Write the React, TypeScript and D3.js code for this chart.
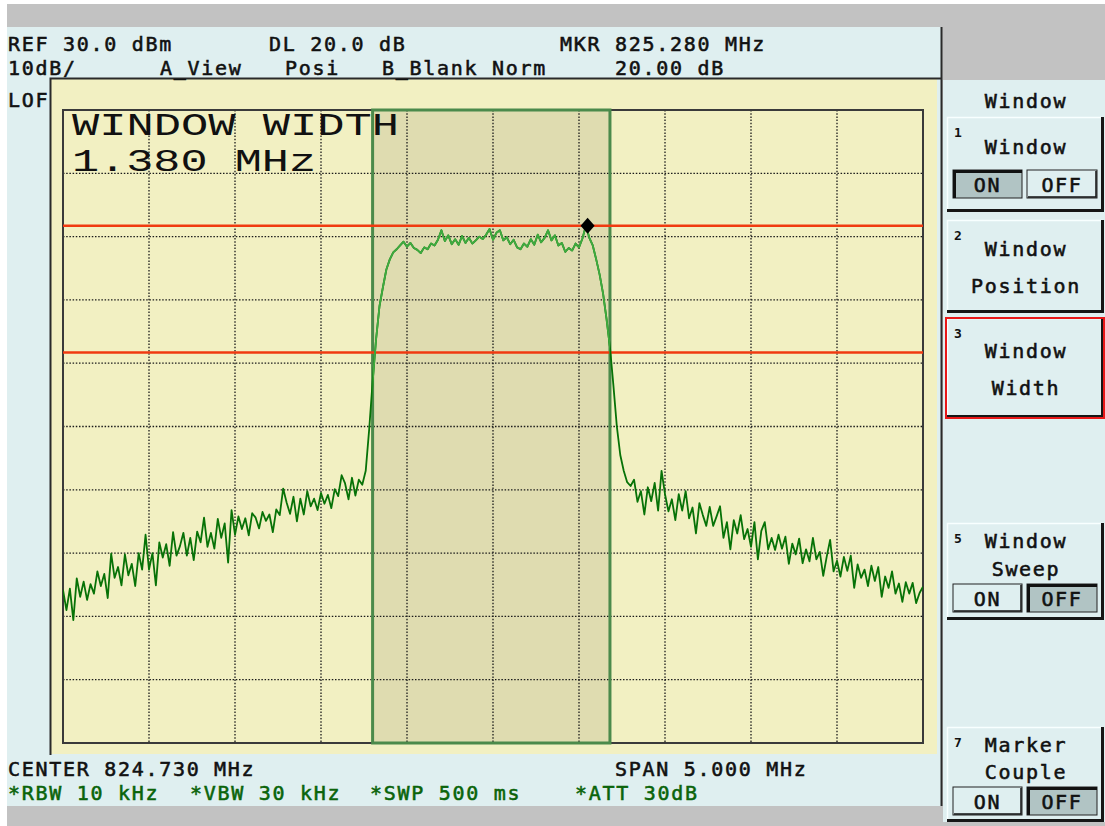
import React from "react";
import * as d3 from "d3";

// ---------- data ----------
const START_MHZ = 822.23;
const STEP_MHZ = 0.02;
const SPAN_MHZ = 5;
const REF_DBM = 30;
const DB_PER_DIV = 10;
const DIVS = 10;

const TRACE_DBM = [
  -45.8, -49.0, -45.6, -50.6, -44.0, -46.9, -44.5, -47.4, -44.9, -46.4,
  -42.9, -45.2, -43.3, -47.1, -40.1, -43.9, -42.2, -45.1, -40.2, -43.5,
  -41.7, -45.2, -40.0, -42.6, -37.1, -42.6, -40.0, -45.1, -38.3, -40.7,
  -38.6, -42.0, -36.7, -40.4, -38.9, -36.8, -40.4, -37.6, -41.1, -36.6,
  -38.3, -34.4, -39.0, -36.8, -39.3, -34.6, -37.6, -35.3, -41.5, -33.2,
  -37.1, -34.2, -36.2, -34.5, -37.2, -33.7, -34.4, -36.1, -33.5, -34.9,
  -33.9, -36.7, -33.1, -34.0, -29.8, -32.0, -33.8, -31.1, -35.0, -31.4,
  -33.9, -30.2, -32.6, -31.4, -33.2, -30.5, -32.2, -30.8, -32.9, -29.9,
  -31.0, -27.7, -29.0, -31.5, -28.1, -30.9, -28.4, -29.2, -27.0, -20.5,
  -13.0, -6.3, -1.0, 2.0, 4.8, 6.4, 7.5, 8.0, 8.6, 9.2,
  8.4, 9.0, 8.2, 7.9, 7.4, 8.3, 8.0, 8.9, 8.6, 9.5,
  11.0, 9.3, 10.2, 8.8, 9.6, 8.7, 10.1, 9.0, 9.8, 8.9,
  9.4, 10.0, 9.6, 10.3, 11.2, 9.5, 10.6, 11.0, 9.4, 9.9,
  8.8, 9.5, 8.3, 8.0, 8.9, 8.4, 9.6, 8.7, 10.3, 9.1,
  9.8, 11.0, 9.4, 10.2, 8.6, 9.0, 7.6, 8.2, 7.8, 8.9,
  8.3, 9.7, 11.7, 9.8, 8.6, 6.4, 4.0, 1.0, -3.0, -7.5,
  -13.5, -20.0, -24.5, -27.0, -28.8, -29.4, -28.4, -31.9, -30.2, -33.9,
  -29.6, -31.8, -28.9, -33.3, -27.0, -30.7, -33.4, -31.5, -34.8, -30.7,
  -33.3, -30.2, -34.5, -32.8, -36.9, -32.1, -34.0, -35.7, -32.7, -35.7,
  -34.2, -32.6, -37.6, -35.1, -39.4, -34.8, -36.9, -34.0, -37.8, -36.2,
  -39.0, -35.1, -41.0, -36.5, -35.1, -39.4, -37.6, -39.5, -37.1, -39.3,
  -37.4, -41.7, -38.5, -40.2, -37.7, -41.6, -39.4, -41.3, -37.6, -41.0,
  -39.8, -43.6, -40.6, -37.9, -42.9, -41.2, -43.7, -40.6, -42.8, -40.4,
  -45.5, -41.8, -43.9, -42.6, -45.2, -42.0, -44.4, -42.2, -46.9, -43.7,
  -45.5, -42.9, -46.4, -44.8, -47.7, -44.6, -46.4, -44.7, -47.9, -46.3,
  -45.3,
];

const WINDOW_START_MHZ = 824.03;
const WINDOW_WIDTH_MHZ = 1.38;
const LINE_LEVELS_DBM = [11.7, -8.3];
const MARKER_MHZ = 825.28;
const MARKER_DBM = 11.7;

const HEADER_ROW1 = ["REF 30.0 dBm", "DL 20.0 dB", "MKR 825.280 MHz"];
const HEADER_ROW2 = ["10dB/", "A_View", "Posi", "B_Blank", "Norm", "20.00 dB"];
const FOOTER_ROW1 = ["CENTER 824.730 MHz", "SPAN 5.000 MHz"];
const FOOTER_ROW2 = ["*RBW 10 kHz", "*VBW 30 kHz", "*SWP 500 ms", "*ATT 30dB"];
const BIG_TEXT = ["WINDOW WIDTH", "1.380 MHz"];
const MENU_TITLE = "Window";
const SOFTKEY_NUMS = ["1", "2", "3", "5", "7"];
const SOFTKEY_LINES = [["Window"], ["Window", "Position"], ["Window", "Width"], ["Window", "Sweep"], ["Marker", "Couple"]];
const SOFTKEY_TOGGLE = ["on", "", "", "off", "off"];

// ---------- layout ----------
const GX0 = 63, GX1 = 923, GY0 = 110, GY1 = 743;
const HEADER_ROW1_X = [8, 269, 560];
const HEADER_ROW2_X = [8, 160, 285, 382, 492, 615];
const FOOTER_ROW1_X = [8, 615];
const FOOTER_ROW2_X = [8, 190, 370, 575];
const SK_TOP = [117, 220, 318, 523, 727];
const SK_H = [95, 93, 100, 97, 95];
const SK_LINE_Y = [[154], [256, 293], [358, 395], [548, 576], [752, 779]];
const SK_TOGGLE_Y = [170, 0, 0, 584, 787];

const FONT = "'DejaVu Sans Mono', monospace";
const txt = { fontFamily: FONT, fontSize: 20, letterSpacing: 1.7, strokeWidth: 0.55 } as const;

const CYAN = "#dfeff0";
const YELLOW = "#f2f0c2";

function Toggle({ y, state }: { y: number; state: string }) {
  const boxes = [
    { x: 953, w: 69, label: "ON", pressed: state === "on" },
    { x: 1027, w: 70, label: "OFF", pressed: state === "off" },
  ];
  const h = 28;
  return (
    <g>
      {boxes.map((b) => (
        <g key={b.label}>
          <rect x={b.x} y={y} width={b.w} height={h} fill={b.pressed ? "#b1c4c4" : CYAN} stroke="#222" strokeWidth={1} />
          {b.pressed ? (
            <path d={`M${b.x + 1.5},${y + h}V${y + 1.5}H${b.x + b.w}`} fill="none" stroke="#111" strokeWidth={3} />
          ) : (
            <path d={`M${b.x + 1},${y + h - 1}H${b.x + b.w - 1}V${y + 1}`} fill="none" stroke="#111" strokeWidth={1.5} />
          )}
          <text x={b.x + b.w / 2} y={y + 22} textAnchor="middle" {...txt} fill="#111" stroke="#111">{b.label}</text>
        </g>
      ))}
    </g>
  );
}

export default function App() {
  const x = d3.scaleLinear().domain([START_MHZ, START_MHZ + SPAN_MHZ]).range([GX0, GX1]);
  const y = d3
    .scaleLinear()
    .domain([REF_DBM - DB_PER_DIV * DIVS, REF_DBM])
    .range([GY1, GY0]);

  const pts = TRACE_DBM.map((v, i) => [START_MHZ + i * STEP_MHZ, v] as [number, number]);
  const line = d3
    .line<[number, number]>()
    .x((d) => x(d[0]))
    .y((d) => y(d[1]));
  const tracePath = line(pts) || "";

  const xTicks = d3.range(0, DIVS + 1).map((k) => START_MHZ + (k * SPAN_MHZ) / DIVS);
  const yTicks = d3.range(0, DIVS + 1).map((k) => REF_DBM - k * DB_PER_DIV);

  const wx0 = x(WINDOW_START_MHZ);
  const wx1 = x(WINDOW_START_MHZ + WINDOW_WIDTH_MHZ);
  const mx = x(MARKER_MHZ);
  const my = y(MARKER_DBM);

  return (
    <div style={{ position: "absolute", left: 0, top: 0 }}>
      <svg width={1105} height={826} style={{ display: "block" }}>
        <defs>
          <clipPath id="gridClip">
            <rect x={GX0} y={GY0} width={GX1 - GX0} height={GY1 - GY0} />
          </clipPath>
          <clipPath id="winClip">
            <rect x={wx0} y={GY0} width={wx1 - wx0} height={GY1 - GY0} />
          </clipPath>
        </defs>
        <rect x={0} y={0} width={1105} height={826} fill="#ffffff" />
        <rect x={7} y={4} width={1098} height={822} fill="#c2c2c2" />
        {/* main screen */}
        <rect x={7} y={27} width={934} height={779} fill={CYAN} />
        <rect x={51} y={79} width={886} height={675} fill={YELLOW} />
        <path d="M50.5,755V78.5H941" fill="none" stroke="#2a2a2a" strokeWidth={2} />
        <line x1={941.5} x2={941.5} y1={27} y2={806} stroke="#2a2a2a" strokeWidth={2} />
        {/* right panel */}
        <rect x={943} y={80} width={162} height={742} fill={CYAN} />

        {/* window shading */}
        <rect x={wx0} y={GY0} width={wx1 - wx0} height={GY1 - GY0} fill="#dfdcb0" />

        {/* grid */}
        {xTicks.slice(1, -1).map((f) => (
          <line key={"vx" + f} x1={x(f)} x2={x(f)} y1={GY0} y2={GY1} stroke="#1a1a1a" strokeWidth={1.3} strokeDasharray="1.5 1.7" />
        ))}
        {yTicks.slice(1, -1).map((v) => (
          <line key={"hy" + v} x1={GX0} x2={GX1} y1={y(v)} y2={y(v)} stroke="#1a1a1a" strokeWidth={1.3} strokeDasharray="1.5 1.7" />
        ))}
        <rect x={GX0} y={GY0} width={GX1 - GX0} height={GY1 - GY0} fill="none" stroke="#3a3a3a" strokeWidth={2} />

        {/* window borders */}
        <rect x={wx0} y={GY0} width={wx1 - wx0} height={GY1 - GY0} fill="none" stroke="#4b8a4b" strokeWidth={3} />

        {/* display lines */}
        {LINE_LEVELS_DBM.map((v) => (
          <line key={"dl" + v} x1={GX0} x2={GX1} y1={y(v)} y2={y(v)} stroke="#f03a10" strokeWidth={2.5} />
        ))}

        {/* trace */}
        <g clipPath="url(#gridClip)">
          <path d={tracePath} fill="none" stroke="#077207" strokeWidth={1.8} strokeLinejoin="round" />
        </g>
        <g clipPath="url(#winClip)">
          <path d={tracePath} fill="none" stroke="#3faa3f" strokeWidth={1.8} strokeLinejoin="round" />
        </g>

        {/* marker */}
        <path d={`M${mx},${my - 8}L${mx + 7},${my}L${mx},${my + 8}L${mx - 7},${my}Z`} fill="#000" />

        {/* big overlay text */}
        <text x={72} y={135} fontFamily="'Liberation Mono', monospace" fontSize={31} textLength={327} lengthAdjust="spacingAndGlyphs" fill="#111">
          {BIG_TEXT[0]}
        </text>
        <text x={72} y={171} fontFamily="'Liberation Mono', monospace" fontSize={31} textLength={244} lengthAdjust="spacingAndGlyphs" fill="#111">
          {BIG_TEXT[1]}
        </text>

        {/* header */}
        {HEADER_ROW1.map((s, i) => (
          <text key={s} x={HEADER_ROW1_X[i]} y={51} {...txt} fill="#111" stroke="#111">{s}</text>
        ))}
        {HEADER_ROW2.map((s, i) => (
          <text key={s} x={HEADER_ROW2_X[i]} y={75} {...txt} fill="#111" stroke="#111">{s}</text>
        ))}
        <text x={8} y={107} {...txt} fill="#111" stroke="#111">LOF</text>

        {/* footer */}
        {FOOTER_ROW1.map((s, i) => (
          <text key={s} x={FOOTER_ROW1_X[i]} y={776} {...txt} fill="#111" stroke="#111">{s}</text>
        ))}
        {FOOTER_ROW2.map((s, i) => (
          <text key={s} x={FOOTER_ROW2_X[i]} y={800} {...txt} fill="#0a640a" stroke="#0a640a">{s}</text>
        ))}

        {/* softkeys */}
        <text x={1026} y={108} textAnchor="middle" {...txt} fill="#111" stroke="#111">{MENU_TITLE}</text>
        {SOFTKEY_NUMS.map((n, i) => {
          const top = SK_TOP[i];
          const h = SK_H[i];
          const red = i === 2;
          return (
            <g key={n}>
              <path d={`M947.5,${top + h}V${top + 0.5}H1103`} fill="none" stroke="#f8ffff" strokeWidth={1.5} />
              <path d={`M947,${top + h - 1.5}H1102.5V${top}`} fill="none" stroke="#161616" strokeWidth={3} />
              {red && <rect x={946} y={top} width={158} height={h} fill="none" stroke="#e81818" strokeWidth={2} />}
              <text x={954} y={top + 20} fontFamily={FONT} fontSize={13} fontWeight="bold" fill="#111">{n}</text>
              {SOFTKEY_LINES[i].map((s, j) => (
                <text key={s} x={1026} y={SK_LINE_Y[i][j]} textAnchor="middle" {...txt} fill="#111" stroke="#111">{s}</text>
              ))}
              {SOFTKEY_TOGGLE[i] && <Toggle y={SK_TOGGLE_Y[i]} state={SOFTKEY_TOGGLE[i]} />}
            </g>
          );
        })}
      </svg>
    </div>
  );
}
